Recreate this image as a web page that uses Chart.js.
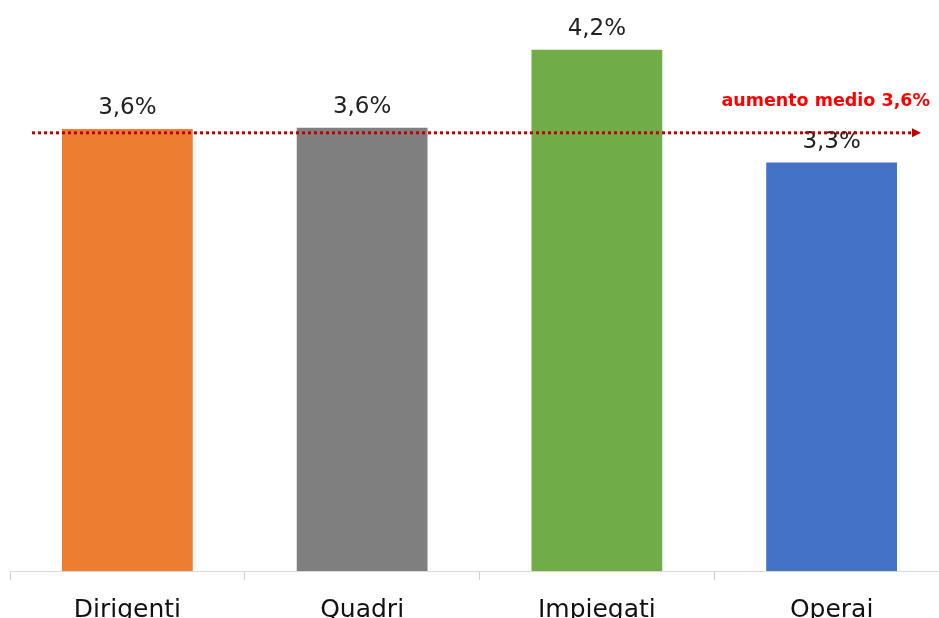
<!DOCTYPE html>
<html>
<head>
<meta charset="utf-8">
<script src="https://cdn.jsdelivr.net/npm/chart.js@4.4.0/dist/chart.umd.min.js"></script>
<style>
    html, body { margin: 0; padding: 0; background: #fff; overflow: hidden; }
    #wrap { width: 939px; height: 618px; overflow: hidden; position: relative; }
    #inner { width: 950px; height: 618px; position: relative; }
</style>
</head>
<body>
<div id="wrap"><div id="inner"><canvas id="grafico"></canvas></div></div>
<script>
// Dati del grafico
const categorie = ['Dirigenti', 'Quadri', 'Impiegati', 'Operai'];
const aumenti = [3.56, 3.57, 4.2, 3.29];
const coloriBarre = ['#ED7D31', '#7F7F7F', '#70AD47', '#4472C4'];
const aumentoMedio = 3.53;
const etichettaMedia = 'aumento medio 3,6%';

const FONT = '"DejaVu Sans", sans-serif';

function formatta(v) {
    return v.toFixed(1).replace('.', ',') + '%';
}

// Etichette dei valori + linea della media
const pluginEtichette = {
    id: 'etichette',
    afterDatasetsDraw(chart) {
        const ctx = chart.ctx;
        const meta = chart.getDatasetMeta(0);
        const area = chart.chartArea;
        ctx.save();

        // valori sopra le barre
        ctx.fillStyle = '#222';
        ctx.font = '23px ' + FONT;
        ctx.textAlign = 'center';
        ctx.textBaseline = 'middle';
        meta.data.forEach((bar, i) => {
            ctx.fillText(formatta(aumenti[i]), bar.x, bar.y - 21);
        });

        // linea tratteggiata della media con freccia
        const y = chart.scales.y.getPixelForValue(aumentoMedio);
        const x0 = area.left + 22;
        const x1 = area.right - 37;
        ctx.strokeStyle = '#C00000';
        ctx.lineWidth = 3;
        ctx.setLineDash([3, 3]);
        ctx.beginPath();
        ctx.moveTo(x0, y);
        ctx.lineTo(x1, y);
        ctx.stroke();
        ctx.setLineDash([]);
        ctx.fillStyle = '#C00000';
        ctx.beginPath();
        ctx.moveTo(x1, y - 4.5);
        ctx.lineTo(x1 + 9, y);
        ctx.lineTo(x1, y + 4.5);
        ctx.closePath();
        ctx.fill();

        // testo della media
        ctx.fillStyle = '#FF0000';
        ctx.font = 'bold 17.5px ' + FONT;
        ctx.textAlign = 'right';
        ctx.textBaseline = 'middle';
        ctx.fillText(etichettaMedia, area.right - 19, y - 31);

        ctx.restore();
    }
};

new Chart(document.getElementById('grafico'), {
    type: 'bar',
    data: {
        labels: categorie,
        datasets: [{
            data: aumenti,
            backgroundColor: coloriBarre,
            borderWidth: 0,
            categoryPercentage: 1,
            barPercentage: 0.557
        }]
    },
    options: {
        responsive: true,
        maintainAspectRatio: false,
        animation: false,
        layout: { padding: { left: 10, right: 1, top: 0, bottom: 0 } },
        plugins: {
            legend: { display: false },
            tooltip: { enabled: false }
        },
        scales: {
            x: {
                grid: {
                    display: true,
                    drawOnChartArea: false,
                    drawTicks: true,
                    tickLength: 9,
                    color: '#D0D0D0',
                    lineWidth: 1
                },
                border: { display: true, color: '#D9D9D9', width: 1 },
                ticks: {
                    color: '#111',
                    font: { family: FONT, size: 25 },
                    padding: 15,
                    maxRotation: 0
                },
                afterFit(scale) { scale.height = 47; }
            },
            y: {
                display: false,
                min: 0,
                max: 4.6
            }
        }
    },
    plugins: [pluginEtichette]
});
</script>
</body>
</html>
